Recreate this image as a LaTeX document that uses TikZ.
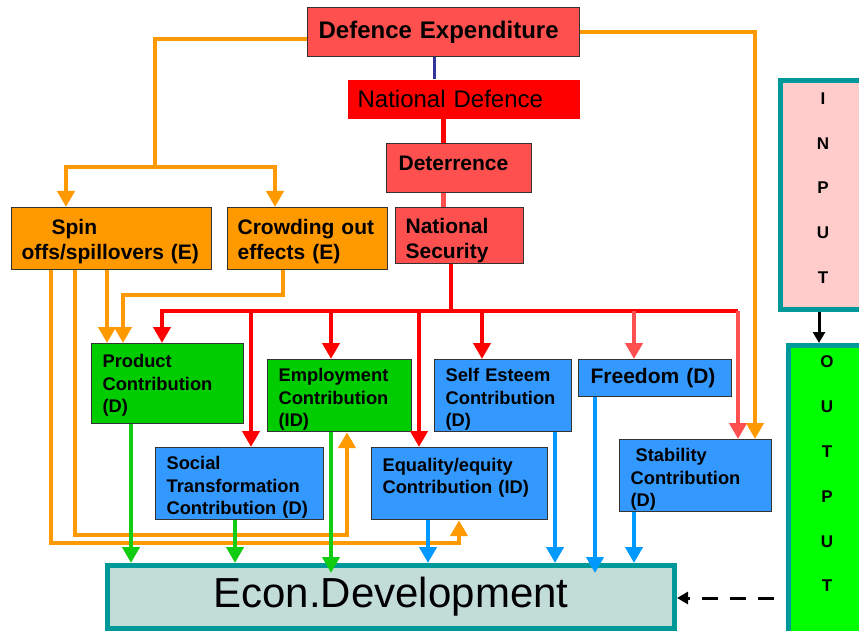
\documentclass[tikz,border=0pt]{standalone}
\usepackage{fontspec}
\setmainfont{Liberation Sans}
\usetikzlibrary{arrows.meta}

\definecolor{salmon}{HTML}{FF5050}
\definecolor{defred}{HTML}{FF0000}
\definecolor{orangeline}{HTML}{FF9900}
\definecolor{boxgreen}{HTML}{00CC00}
\definecolor{arrowgreen}{HTML}{11CC11}
\definecolor{boxblue}{HTML}{3399FF}
\definecolor{arrowblue}{HTML}{0099FF}
\definecolor{econfill}{HTML}{C2DCD8}
\definecolor{tealline}{HTML}{009999}
\definecolor{inputfill}{HTML}{FFCCCC}
\definecolor{outputfill}{HTML}{00FF00}
\definecolor{boxline}{HTML}{333333}
\definecolor{navyline}{HTML}{333399}

% pushes the lines of a box a little lower
\newcommand\topgap[1]{\rule{0pt}{#1}}

\tikzset{
  box/.style={draw=boxline, line width=1.2pt, anchor=north west, align=left,
    inner xsep=11pt, inner ysep=0pt},
  bigbold/.style={font=\fontsize{24}{28}\selectfont\bfseries},
  bigplain/.style={font=\fontsize{24}{28}\selectfont},
  midbold/.style={font=\fontsize{21}{25}\selectfont\bfseries},
  smallbold/.style={font=\fontsize{18.3}{22.5}\selectfont\bfseries},
  tealframe/.style={draw=tealline, line width=5pt, anchor=north west},
  letters/.style={font=\fontsize{17}{44.8}\selectfont\bfseries, align=center},
  conn/.style={line width=4.5pt},
  redlink/.style={conn, draw=defred},
  salmonlink/.style={conn, draw=salmon},
  orangelink/.style={line width=4pt, draw=orangeline},
  greenlink/.style={conn, draw=arrowgreen},
  bluelink/.style={conn, draw=arrowblue},
  blacklink/.style={line width=3pt, draw=black, -{Triangle[width=12pt,length=11pt]}}
}

\begin{document}
\begin{tikzpicture}[x=1pt, y=-1pt, >={Triangle[width=17pt,length=16pt]}]
  \useasboundingbox (0,0) rectangle (859,631);

  % defence chain
  \node[box, fill=salmon, bigbold, text width=250pt, minimum height=49pt] (defexp) at (307,7) {Defence Expenditure};
  \node[box, draw=none, fill=defred, bigplain, inner xsep=10pt, text width=212pt, minimum height=39pt] (natdef) at (347,79) {National Defence};
  \node[box, fill=salmon, midbold, inner xsep=12pt, text width=121pt, minimum height=49pt, text depth=10pt] (deter) at (386,143) {Deterrence};
  \node[box, fill=salmon, midbold, inner xsep=10pt, text width=108pt, minimum height=56pt] (natsec) at (395,207) {\topgap{25pt}National\\Security};

  % economic effects
  \node[box, fill=orangeline, midbold, inner xsep=10pt, text width=180pt, minimum height=62pt] (spin) at (11,207) {\topgap{21pt}\hspace*{30pt}Spin\\offs/spillovers (E)};
  \node[box, fill=orangeline, midbold, inner xsep=10pt, text width=140pt, minimum height=62pt] (crowd) at (227,207) {\topgap{21pt}Crowding out\\effects (E)};

  % contributions
  \node[box, fill=boxgreen, smallbold, text width=130pt, minimum height=80pt] (prod) at (91,343) {\topgap{17pt}Product\\Contribution\\(D)};
  \node[box, fill=boxgreen, smallbold, text width=122pt, minimum height=72pt] (employ) at (267,359) {\topgap{21pt}Employment\\Contribution\\(ID)};
  \node[box, fill=boxblue, smallbold, text width=146pt, minimum height=72pt] (social) at (155,447) {\topgap{21pt}Social\\Transformation\\Contribution (D)};
  \node[box, fill=boxblue, smallbold, text width=154pt, minimum height=72pt] (equal) at (371,447) {\topgap{20pt}Equality/equity\\Contribution (ID)\\\mbox{}};
  \node[box, fill=boxblue, smallbold, text width=115pt, minimum height=72pt] (selfest) at (434,359) {\topgap{21pt}Self Esteem\\Contribution\\(D)};
  \node[box, fill=boxblue, midbold, inner xsep=12pt, text width=129pt, minimum height=37pt] (freedom) at (578,359) {Freedom (D)};
  \node[box, fill=boxblue, smallbold, text width=130pt, minimum height=72pt] (stab) at (619,439) {\topgap{21pt}\hspace*{5pt}Stability\\Contribution\\(D)};

  % result and input/output frames
  \node[tealframe, fill=econfill, minimum width=567pt, minimum height=63pt, font=\fontsize{42}{48}\selectfont] (econ) at (105,563) {Econ.Development};
  \node[tealframe, fill=inputfill, minimum width=90pt, minimum height=229pt] (input) at (778,78) {};
  \node[tealframe, fill=outputfill, minimum width=90pt, minimum height=300pt] (output) at (786,343) {};
  \node[letters] (inputletters) at (823,188) {I\\N\\P\\U\\T};
  \node[letters] (outputletters) at (827,474) {O\\U\\T\\P\\U\\T};

  % chain links
  \draw[line width=3pt, draw=navyline] (defexp.south -| 434,0) -- (natdef.north -| 434,0);
  \draw[conn, line width=5pt, draw=defred] (natdef.south -| 443,0) -- (deter.north -| 443,0);
  \draw[conn, line width=5pt, draw=salmon] (deter.south -| 443,0) -- (natsec.north -| 443,0);

  % red bus
  \coordinate (bus) at (451,311);
  \coordinate (busL) at (162,311);
  \coordinate (busR) at (738,311);
  \draw[redlink] (natsec.south -| bus) -- (bus);
  \draw[redlink, ->] (busR) -- (busL) -- (prod.north -| busL);
  \foreach \x/\n in {251/social, 331/employ, 419/equal, 482/selfest}
    \draw[redlink, ->] (bus -| \x,0) -- (\n.north -| \x,0);
  \draw[salmonlink, ->] (bus -| 634,0) -- (freedom.north -| 634,0);
  \draw[salmonlink, ->] (busR) -- (stab.north -| busR);

  % orange links
  \coordinate (split) at (155,167);
  \draw[orangelink] (defexp.west |- 0,39) -| (split);
  \draw[orangelink, ->] (split) -| (spin.north -| 66,0);
  \draw[orangelink, ->] (split) -| (crowd.north -| 275,0);
  \draw[orangelink, ->] (defexp.east) -| (stab.north -| 755,0);
  \draw[orangelink, ->] (spin.south -| 107,0) -- (prod.north -| 107,0);
  \draw[orangelink, ->] (spin.south -| 75,0) |- (347,535) -- (employ.south -| 347,0);
  \draw[orangelink, ->] (spin.south -| 51,0) |- (459,543) -- (equal.south -| 459,0);
  \draw[orangelink, ->] (crowd.south -| 283,0) |- (123,295) -- (prod.north -| 123,0);

  % into development
  \foreach \x/\n in {131/prod, 235/social}
    \draw[greenlink, ->] (\n.south -| \x,0) -- (econ.north -| \x,0);
  \draw[greenlink, ->, shorten >=-10pt] (employ.south -| 331,0) -- (econ.north -| 331,0);
  \foreach \x/\n in {428/equal, 555/selfest, 634/stab}
    \draw[bluelink, ->] (\n.south -| \x,0) -- (econ.north -| \x,0);
  \draw[bluelink, ->, shorten >=-10pt] (freedom.south -| 595,0) -- (econ.north -| 595,0);

  % input / output
  \draw[blacklink] (input.south -| 819,0) -- (output.north -| 819,0);
  \draw[blacklink, dash pattern=on 16pt off 12pt, dash phase=16pt] (output.west |- 0,598) -- (econ.east |- 0,598);
\end{tikzpicture}
\end{document}
